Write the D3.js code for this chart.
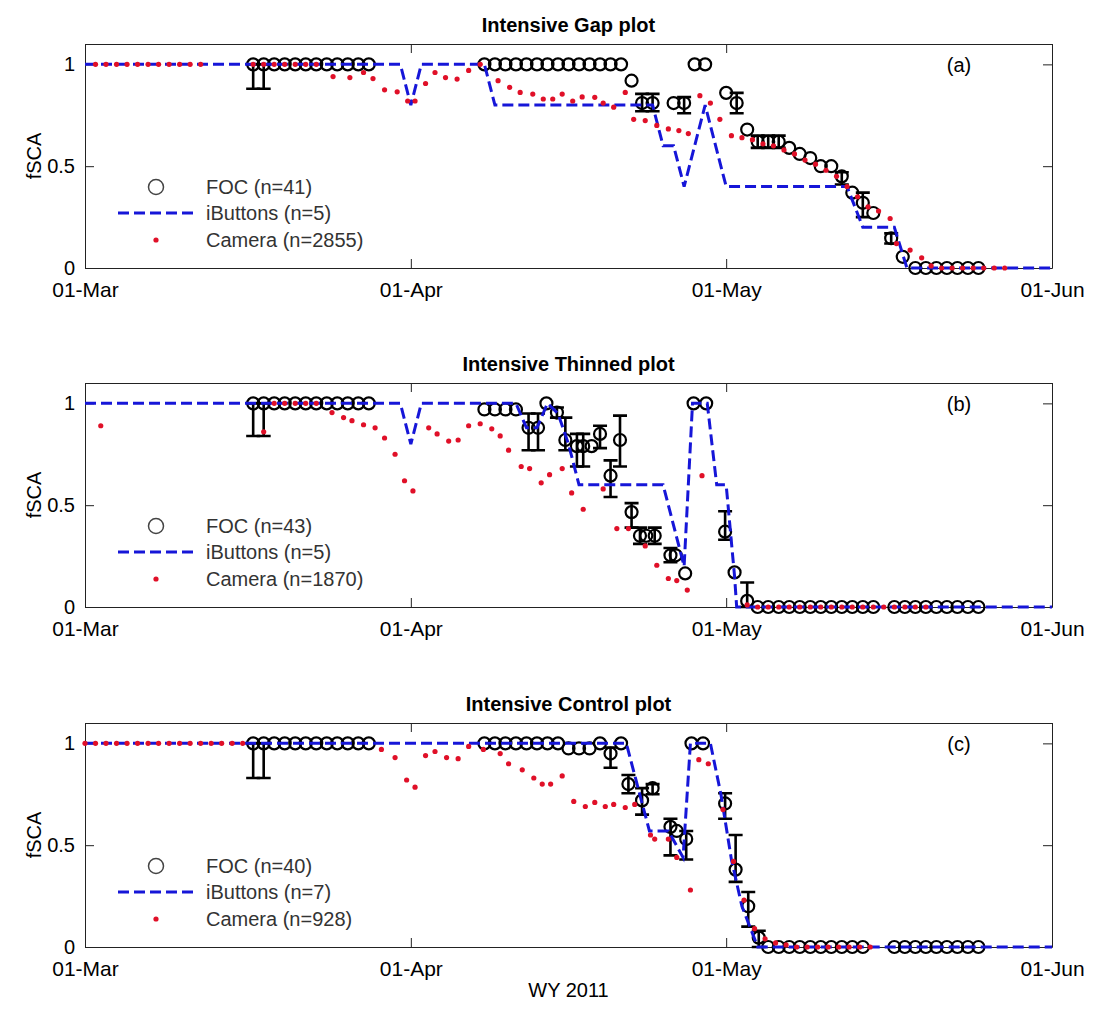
<!DOCTYPE html>
<html>
<head>
<meta charset="utf-8">
<script src="https://cdn.jsdelivr.net/npm/d3@7"></script>
<style>
body { margin: 0; background: #fff; }
svg text { font-family: "Liberation Sans", Arial, sans-serif; }
</style>
</head>
<body>
<svg id="chart" width="1094" height="1013"></svg>
<script>
// x values are days since 01-Mar-2011 (fractional where the picture puts marks between days)
var tickDays = [0, 31, 61, 92];
var yTicks = [0, 0.5, 1];

var panelTitles = ['Intensive Gap plot', 'Intensive Thinned plot', 'Intensive Control plot'];
var panelLetters = ['(a)', '(b)', '(c)'];
var focLabels = ['FOC (n=41)', 'FOC (n=43)', 'FOC (n=40)'];
var ibLabels = ['iButtons (n=5)', 'iButtons (n=5)', 'iButtons (n=7)'];
var camLabels = ['Camera (n=2855)', 'Camera (n=1870)', 'Camera (n=928)'];

// FOC: [day, fSCA, lower, upper]
var gapFoc = [
  [16, 1, 0.88, 1], [17, 1, 0.88, 1], [18, 1], [19, 1], [20, 1], [21, 1], [22, 1], [23, 1],
  [24, 1], [25, 1], [26, 1], [27, 1],
  [38, 1], [39, 1], [40, 1], [41, 1], [42, 1], [43, 1], [44, 1], [45, 1], [46, 1], [47, 1],
  [48, 1], [49, 1], [50, 1], [51, 1],
  [52, 0.92], [53, 0.81, 0.77, 0.855], [54, 0.81, 0.77, 0.855], [56, 0.81], [57, 0.81, 0.76, 0.84],
  [58, 1], [59, 1], [61, 0.86], [62, 0.81, 0.76, 0.86], [63, 0.68],
  [64, 0.62, 0.59, 0.65], [65, 0.62, 0.59, 0.65], [66, 0.62, 0.59, 0.65], [67, 0.59], [68, 0.56],
  [69, 0.54], [70, 0.5], [71, 0.5], [72, 0.45, 0.41, 0.47], [73, 0.37], [74, 0.32, 0.25, 0.37],
  [75, 0.27], [76.7, 0.146, 0.12, 0.17], [77.8, 0.055],
  [79, 0], [80, 0], [81, 0], [82, 0], [83, 0], [84, 0], [85, 0]
];
var thinFoc = [
  [16, 1, 0.84, 1], [17, 1, 0.84, 1], [18, 1], [19, 1], [20, 1], [21, 1], [22, 1], [23, 1],
  [24, 1], [25, 1], [26, 1], [27, 1],
  [38, 0.97], [39, 0.97], [40, 0.97], [41, 0.97],
  [42.2, 0.88, 0.77, 0.95], [43.1, 0.88, 0.77, 0.95], [43.9, 1], [44.9, 0.955, 0.93, 0.98],
  [45.7, 0.82, 0.77, 0.93], [46.8, 0.79, 0.69, 0.85], [47.4, 0.79, 0.69, 0.85], [48.2, 0.79],
  [49, 0.85, 0.78, 0.89], [50, 0.645, 0.54, 0.72], [50.9, 0.82, 0.69, 0.94], [52, 0.466, 0.39, 0.51],
  [52.8, 0.35, 0.31, 0.39], [53.4, 0.35], [54.2, 0.35, 0.31, 0.39], [55.7, 0.254, 0.22, 0.29],
  [56.2, 0.254], [57.1, 0.165], [57.9, 1], [59.1, 1], [60.9, 0.37, 0.33, 0.47], [61.8, 0.17],
  [63, 0.03, 0, 0.12],
  [64, 0], [65, 0], [66, 0], [67, 0], [68, 0], [69, 0], [70, 0], [71, 0], [72, 0], [73, 0],
  [74, 0], [75, 0], [77, 0], [78, 0], [79, 0], [80, 0], [81, 0], [82, 0], [83, 0], [84, 0], [85, 0]
];
var controlFoc = [
  [16, 1, 0.83, 1], [17, 1, 0.83, 1], [18, 1], [19, 1], [20, 1], [21, 1], [22, 1], [23, 1],
  [24, 1], [25, 1], [26, 1], [27, 1],
  [38, 1], [39, 1], [40, 1], [41, 1], [42, 1], [43, 1], [44, 1], [45, 1],
  [46, 0.975], [47, 0.975], [48, 0.975], [49, 1], [50, 0.95, 0.88, 0.98], [51, 1],
  [51.7, 0.8, 0.755, 0.845], [53, 0.72, 0.65, 0.78], [54, 0.78, 0.75, 0.8],
  [55.7, 0.59, 0.45, 0.63], [56.3, 0.57], [57.2, 0.53, 0.43, 0.57], [57.7, 1], [58.8, 1],
  [60.9, 0.705, 0.63, 0.755], [61.9, 0.38, 0.32, 0.55], [63.1, 0.2, 0.1, 0.27], [64.1, 0.046, 0, 0.08],
  [65, 0], [66, 0], [67, 0], [68, 0], [69, 0], [70, 0], [71, 0], [72, 0], [73, 0], [74, 0],
  [77, 0], [78, 0], [79, 0], [80, 0], [81, 0], [82, 0], [83, 0], [84, 0], [85, 0]
];

// iButtons: [day, fSCA]
var gapIb = [
  [0, 1], [30, 1], [31, 0.8], [32, 1], [38, 1], [39, 0.8], [54, 0.8], [55, 0.6], [56, 0.6],
  [57, 0.4], [59, 0.8], [61, 0.4], [72.5, 0.4], [74, 0.2], [77, 0.2], [78.2, 0], [92, 0]
];
var thinIb = [
  [0, 1], [30, 1], [31, 0.8], [32, 1], [41, 1], [42, 0.88], [43, 0.88], [44, 1], [45, 0.95],
  [46, 0.8], [47, 0.6], [55, 0.6], [57, 0.2], [57.8, 1], [59.2, 1], [60.1, 0.6], [61, 0.6],
  [61.8, 0.15], [62, 0], [92, 0]
];
var controlIb = [
  [0, 1], [51.5, 1], [53.7, 0.57], [55.5, 0.57], [56.9, 0.44], [57.6, 1], [59.5, 1],
  [60.5, 0.75], [61.5, 0.43], [62.5, 0.2], [64, 0], [92, 0]
];

// Camera: [day, fSCA]
var gapCam = [
  [1, 1], [2, 1], [3, 1], [4, 1], [5, 1], [6, 1], [7, 1], [8, 1], [9, 1], [10, 1], [11, 1],
  [16, 1], [17, 1], [18, 1], [19, 1], [20, 1], [21, 1], [22, 1],
  [23.6, 0.94], [25.2, 0.935], [26.5, 0.96], [27.4, 0.93], [28.5, 0.875], [29.7, 0.865],
  [30.7, 0.82], [31.4, 0.82], [32.4, 0.906], [33.3, 0.96], [34.3, 0.935], [35.4, 0.928],
  [36.5, 0.97], [37.6, 1], [39.3, 0.92], [40.4, 0.887], [41.4, 0.862], [42.6, 0.854],
  [43.6, 0.83], [44.5, 0.83], [45.4, 0.854], [46.4, 0.82], [47.3, 0.84], [48.5, 0.838],
  [49.3, 0.81], [50.3, 0.79], [51.4, 0.862], [52.2, 0.73], [53.3, 0.724], [54.4, 0.7],
  [55.5, 0.683], [56.5, 0.675], [57.4, 0.66], [58.5, 0.846], [59.5, 0.81], [60.4, 0.73],
  [61.5, 0.65], [62.5, 0.64], [63.5, 0.63], [64.5, 0.61], [65.5, 0.6], [66.5, 0.58],
  [67.5, 0.56], [68.5, 0.53], [69.5, 0.51], [70.5, 0.48], [71.5, 0.45], [72.5, 0.4],
  [73.5, 0.35], [74.5, 0.3], [75.5, 0.28], [76.6, 0.243], [77.2, 0.12], [78.5, 0.088],
  [79.6, 0.05], [80.5, 0.01], [81.5, 0], [82.5, 0], [83.5, 0], [84.5, 0], [85.5, 0],
  [86.5, 0], [87.5, 0]
];
var thinCam = [
  [1.5, 0.89], [17, 0.86], [18, 1], [19, 1], [20, 1], [21, 1], [22, 1],
  [23.5, 0.955], [24.6, 0.93], [25.4, 0.915], [26.5, 0.895], [27.6, 0.88], [28.5, 0.83],
  [29.5, 0.75], [30.4, 0.62], [31.2, 0.57], [32.7, 0.88], [33.5, 0.85], [34.6, 0.815],
  [35.5, 0.82], [36.5, 0.89], [37.6, 0.9], [38.7, 0.875], [39.5, 0.84], [40.3, 0.77],
  [41.5, 0.69], [42.3, 0.68], [43.4, 0.61], [44.2, 0.65], [45.4, 0.68], [46.3, 0.56],
  [47.4, 0.48], [49.3, 0.58], [50.6, 0.385], [51.7, 0.385], [53.3, 0.3], [54.4, 0.205],
  [55.5, 0.14], [56.3, 0.13], [57.3, 0.083], [58.7, 0.645],
  [63, 0.01], [64, 0], [65, 0], [66, 0], [67, 0], [68, 0], [69, 0], [70, 0], [71, 0],
  [72, 0], [73, 0], [74, 0], [75, 0], [76, 0], [77, 0], [78, 0], [79, 0], [80, 0]
];
var controlCam = [
  [0, 1], [1, 1], [2, 1], [3, 1], [4, 1], [5, 1], [6, 1], [7, 1], [8, 1], [9, 1], [10, 1],
  [11, 1], [12, 1], [13, 1], [14, 1], [15, 1],
  [28.2, 0.97], [29.5, 0.93], [30.6, 0.82], [31.4, 0.785], [32.4, 0.94], [33.3, 0.96],
  [34.4, 0.93], [35.5, 0.925], [36.5, 0.985], [37.9, 0.97], [39.5, 0.95], [40.3, 0.9],
  [41.6, 0.87], [42.7, 0.83], [43.5, 0.8], [44.3, 0.8], [45.4, 0.84], [46.5, 0.715],
  [47.6, 0.69], [48.5, 0.71], [49.5, 0.69], [50.3, 0.7], [51.4, 0.685], [52.3, 0.7],
  [53.8, 0.55], [54.2, 0.53], [55.5, 0.53], [56.3, 0.44], [57.6, 0.28], [58.4, 0.92],
  [59.3, 0.9], [60.7, 0.675], [61.7, 0.42], [62.7, 0.23], [63.7, 0.09], [64.7, 0.04],
  [65.7, 0.02], [66.7, 0.01], [67.7, 0], [68.7, 0], [69.7, 0], [70.7, 0], [71.7, 0],
  [72.7, 0], [73.7, 0], [74.7, 0]
];

var panels = [
  {foc: gapFoc, ib: gapIb, cam: gapCam},
  {foc: thinFoc, ib: thinIb, cam: thinCam},
  {foc: controlFoc, ib: controlIb, cam: controlCam}
];

var left = 85, width = 967, height = 224;
var panelTops = [44, 383, 723];
var FONT_SIZE = 20;
var BLUE = '#1616d8', RED = '#e01028';

var start = Date.UTC(2011, 2, 1);
function dayToDate(d) { return new Date(start + d * 864e5); }

var x = d3.scaleUtc().domain([dayToDate(0), dayToDate(92)]).range([0, width]);
var y = d3.scaleLinear().domain([0, 1.1]).range([height, 0]);
var fmtDate = d3.utcFormat('%d-%b');

var svg = d3.select('#chart');
svg.append('rect').attr('width', 1094).attr('height', 1013).attr('fill', '#fff');

panels.forEach(function(p, i) { drawPanel(p, i); });

svg.append('text')
  .attr('x', left + width / 2).attr('y', 997)
  .attr('text-anchor', 'middle').attr('font-size', FONT_SIZE)
  .text('WY 2011');

function drawPanel(p, i) {
  var top = panelTops[i];
  var g = svg.append('g').attr('transform', 'translate(' + left + ',' + top + ')');
  var tickDates = tickDays.map(dayToDate);

  styleAxis(g.append('g').attr('transform', 'translate(0,' + height + ')')
    .call(d3.axisBottom(x).tickValues(tickDates).tickFormat(fmtDate)
      .tickSize(-9).tickSizeOuter(0).tickPadding(14)), 21);
  styleAxis(g.append('g')
    .call(d3.axisTop(x).tickValues(tickDates).tickFormat('').tickSize(-9).tickSizeOuter(0)));
  styleAxis(g.append('g')
    .call(d3.axisLeft(y).tickValues(yTicks).tickFormat(d3.format('~g'))
      .tickSize(-9).tickSizeOuter(0).tickPadding(10)));
  styleAxis(g.append('g').attr('transform', 'translate(' + width + ',0)')
    .call(d3.axisRight(y).tickValues(yTicks).tickFormat('').tickSize(-9).tickSizeOuter(0)));

  // FOC error bars and circles
  var withErr = p.foc.filter(function(d) { return d.length > 2; });
  var bars = g.append('g').attr('stroke', '#000').attr('stroke-width', 2.6).attr('fill', 'none');
  bars.selectAll('path').data(withErr).join('path')
    .attr('d', function(d) {
      var cx = x(dayToDate(d[0])), y0 = y(d[2]), y1 = y(d[3]);
      return 'M' + cx + ',' + y0 + 'V' + y1 +
        'M' + (cx - 7) + ',' + y0 + 'H' + (cx + 7) +
        'M' + (cx - 7) + ',' + y1 + 'H' + (cx + 7);
    });
  g.append('g').selectAll('circle').data(p.foc).join('circle')
    .attr('cx', function(d) { return x(dayToDate(d[0])); })
    .attr('cy', function(d) { return y(d[1]); })
    .attr('r', 6)
    .attr('fill', 'none').attr('stroke', '#000').attr('stroke-width', 2.2);

  // iButtons
  var line = d3.line()
    .x(function(d) { return x(dayToDate(d[0])); })
    .y(function(d) { return y(d[1]); });
  g.append('path').datum(p.ib)
    .attr('d', line)
    .attr('fill', 'none').attr('stroke', BLUE).attr('stroke-width', 3)
    .attr('stroke-dasharray', '11,5');

  // Camera
  g.append('g').selectAll('circle').data(p.cam).join('circle')
    .attr('cx', function(d) { return x(dayToDate(d[0])); })
    .attr('cy', function(d) { return y(d[1]); })
    .attr('r', 2.6).attr('fill', RED);

  // title, panel letter, y label
  g.append('text')
    .attr('x', width / 2).attr('y', -12)
    .attr('text-anchor', 'middle').attr('font-size', FONT_SIZE).attr('font-weight', 'bold')
    .text(panelTitles[i]);
  g.append('text')
    .attr('x', 874).attr('y', 21).attr('dy', '0.35em')
    .attr('text-anchor', 'middle').attr('font-size', FONT_SIZE)
    .text(panelLetters[i]);
  svg.append('text')
    .attr('transform', 'translate(34,' + (top + height / 2) + ') rotate(-90)')
    .attr('text-anchor', 'middle').attr('dy', '0.35em').attr('font-size', FONT_SIZE)
    .text('fSCA');

  drawLegend(g, i);
}

function drawLegend(g, i) {
  var lg = g.append('g').attr('transform', 'translate(' + (156 - left) + ',0)');
  var rows = [143, 169, 196];
  lg.append('circle').attr('cx', 0).attr('cy', rows[0]).attr('r', 7.5)
    .attr('fill', 'none').attr('stroke', '#444').attr('stroke-width', 1.5);
  lg.append('line').attr('x1', -38).attr('x2', 41).attr('y1', rows[1]).attr('y2', rows[1])
    .attr('stroke', BLUE).attr('stroke-width', 3).attr('stroke-dasharray', '11,5');
  lg.append('circle').attr('cx', 0).attr('cy', rows[2]).attr('r', 2.6).attr('fill', RED);
  var labels = [focLabels[i], ibLabels[i], camLabels[i]];
  lg.selectAll('text.label').data(labels).join('text')
    .attr('class', 'label')
    .attr('x', 50)
    .attr('y', function(d, k) { return rows[k]; })
    .attr('dy', '0.35em')
    .attr('font-size', FONT_SIZE)
    .attr('fill', '#333')
    .text(function(d) { return d; });
}

function styleAxis(sel, size) {
  sel.attr('font-size', size || FONT_SIZE).attr('font-family', null);
  sel.selectAll('path.domain').attr('stroke', '#222');
  sel.selectAll('.tick line').attr('stroke', '#222');
  sel.selectAll('.tick text').attr('fill', '#000');
}
</script>
</body>
</html>
